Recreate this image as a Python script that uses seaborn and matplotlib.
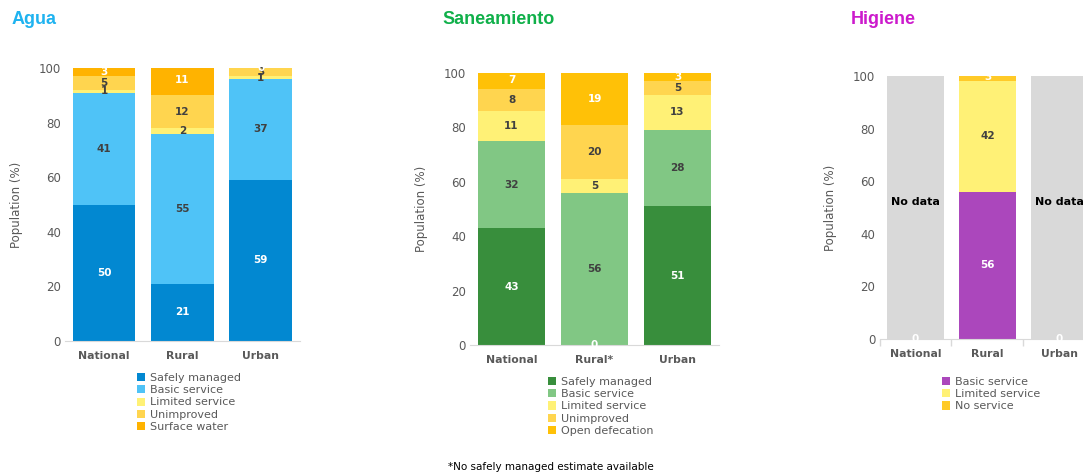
import seaborn as sns
import pandas as pd
import matplotlib.pyplot as plt
from matplotlib.patches import Patch

# categories along the x axis
areas = ['National', 'Rural', 'Urban']
san_areas = ['National', 'Rural*', 'Urban']

# Agua (drinking water), % of population
agua_layers = ['Safely managed', 'Basic service', 'Limited service', 'Unimproved', 'Surface water']
agua_safely = [50, 21, 59]
agua_basic = [41, 55, 37]
agua_limited = [1, 2, 1]
agua_unimproved = [5, 12, 3]
agua_surface = [3, 11, 0]

# Saneamiento (sanitation)
san_layers = ['Safely managed', 'Basic service', 'Limited service', 'Unimproved', 'Open defecation']
san_safely = [43, 0, 51]
san_basic = [32, 56, 28]
san_limited = [11, 5, 13]
san_unimproved = [8, 20, 5]
san_open = [7, 19, 3]

# Higiene (hygiene) - only rural estimates exist
hig_layers = ['Basic service', 'Limited service', 'No service']
hig_basic = [0, 56, 0]
hig_limited = [None, 42, None]
hig_none = [None, 3, None]
hig_nodata = [100, 0, 100]
nodata_text = 'No data'

yticks = [0, 20, 40, 60, 80, 100]
footnote = '*No safely managed estimate available'

sns.set_style('white')
plt.rcParams['font.family'] = ['DejaVu Sans']

GREY_TXT = '#595959'
DARK_TXT = '#404040'


def draw_panel(ax, cats, layers, values, colors, txt_colors, nodata=None, cat_ticks=False):
    df = pd.DataFrame(dict(zip(layers, values)), index=cats).astype(float)
    tops = df.fillna(0).cumsum(axis=1)
    if nodata is not None:
        sns.barplot(x=cats, y=nodata, color='#D9D9D9', width=0.8, saturation=1,
                    errorbar=None, linewidth=0, ax=ax)
    # draw cumulative totals from the top layer down so they stack
    for i in range(len(layers) - 1, -1, -1):
        sns.barplot(x=cats, y=tops.iloc[:, i].values, color=colors[i], width=0.8,
                    saturation=1, errorbar=None, linewidth=0, ax=ax)
    for j, c in enumerate(cats):
        for i, lay in enumerate(layers):
            v = df.loc[c, lay]
            if pd.isna(v):
                continue
            mid = tops.iloc[j, i] - v / 2
            ax.text(j, mid, '%d' % v, ha='center', va='center', fontsize=7.5,
                    fontweight='bold', color=txt_colors[i])
    ax.set_ylim(0, 100)
    ax.set_xlim(-0.5, 2.5)
    ax.set_yticks(yticks)
    ax.set_ylabel('Population (%)', fontsize=8.5, color=GREY_TXT)
    ax.tick_params(axis='y', length=0, pad=3, labelsize=8.5, labelcolor=GREY_TXT)
    ax.tick_params(axis='x', length=0, pad=7, labelsize=7.8, labelcolor=GREY_TXT)
    for lab in ax.get_xticklabels():
        lab.set_fontweight('bold')
    sns.despine(ax=ax, left=True)
    ax.spines['bottom'].set_color('#D9D9D9')
    if cat_ticks:
        ax.set_xticks([-0.5, 0.5, 1.5, 2.5], minor=True)
        ax.tick_params(axis='x', which='minor', bottom=True, length=5, width=1,
                       color='#D9D9D9', direction='out')


fig = plt.figure(figsize=(10.83, 4.74), dpi=100)
ax1 = fig.add_axes([0.0600, 0.2806, 0.2170, 0.5759])
ax2 = fig.add_axes([0.4340, 0.2722, 0.2299, 0.5738])
ax3 = fig.add_axes([0.8121, 0.2848, 0.1994, 0.5549])

agua_colors = ['#0288D1', '#4FC3F7', '#FFF176', '#FFD54F', '#FFB300']
san_colors = ['#388E3C', '#81C784', '#FFF176', '#FFD54F', '#FFC107']
hig_colors = ['#AB47BC', '#FFF176', '#FFCA28']

draw_panel(ax1, areas, agua_layers,
           [agua_safely, agua_basic, agua_limited, agua_unimproved, agua_surface],
           agua_colors, ['white', DARK_TXT, DARK_TXT, DARK_TXT, 'white'])
draw_panel(ax2, san_areas, san_layers,
           [san_safely, san_basic, san_limited, san_unimproved, san_open],
           san_colors, ['white', DARK_TXT, DARK_TXT, DARK_TXT, 'white'])
draw_panel(ax3, areas, hig_layers, [hig_basic, hig_limited, hig_none],
           hig_colors, ['white', DARK_TXT, 'white'], nodata=hig_nodata, cat_ticks=True)

for j, v in enumerate(hig_nodata):
    if v:
        ax3.text(j, 52, nodata_text, ha='center', va='center', fontsize=8,
                 fontweight='bold', color='black')

ax1.yaxis.set_label_coords(-0.179, 0.5)
ax2.yaxis.set_label_coords(-0.169, 0.5)
ax3.yaxis.set_label_coords(-0.197, 0.5)

# panel titles
fig.text(12 / 1083, 1 - 20 / 474, 'Agua', fontsize=13, fontweight='bold',
         color='#1FB3F0', family='Liberation Sans', va='center')
fig.text(442 / 1083, 1 - 20 / 474, 'Saneamiento', fontsize=13, fontweight='bold',
         color='#10B04A', family='Liberation Sans', va='center')
fig.text(851 / 1083, 1 - 20 / 474, 'Higiene', fontsize=13, fontweight='bold',
         color='#CC1ACC', family='Liberation Sans', va='center')


def add_legend(layers, colors, x, y):
    handles = [Patch(facecolor=c, edgecolor='none') for c in colors]
    fig.legend(handles, layers, loc='upper left', bbox_to_anchor=(x / 1083, 1 - y / 474),
               frameon=False, fontsize=8, labelcolor=GREY_TXT, handlelength=0.75,
               handleheight=0.75, handletextpad=0.4, labelspacing=0.2,
               borderpad=0, borderaxespad=0)


add_legend(agua_layers, agua_colors, 137, 373)
add_legend(san_layers, san_colors, 548, 377)
add_legend(hig_layers, hig_colors, 942, 377)

fig.text(551 / 1083, 1 - 467 / 474, footnote, fontsize=7.5, color='black',
         ha='center', va='center')

fig.savefig('out.png', dpi=100)
